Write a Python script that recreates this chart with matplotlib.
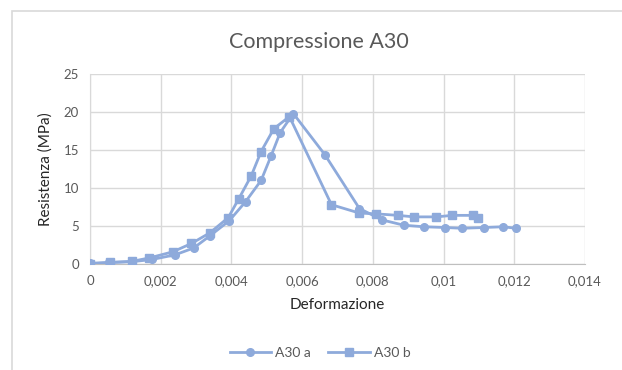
import matplotlib
matplotlib.use("Agg")
import matplotlib.pyplot as plt
from matplotlib.patches import Rectangle
from matplotlib.ticker import FuncFormatter, MultipleLocator

plt.rcParams['font.family'] = ['Lato', 'DejaVu Sans']

# Stress-strain data for the two A30 specimens
deform_a = [0.0, 0.00054, 0.00119, 0.00176, 0.0024, 0.00293, 0.00339, 0.00394,
            0.0044, 0.00484, 0.00512, 0.00538, 0.00575, 0.00664, 0.00762,
            0.00826, 0.00888, 0.00944, 0.01005, 0.01052, 0.01113, 0.01169, 0.01204]
resist_a = [0.1, 0.2, 0.3, 0.6, 1.2, 2.1, 3.7, 5.7,
            8.2, 11.0, 14.2, 17.3, 19.8, 14.4, 7.3,
            5.8, 5.1, 4.9, 4.8, 4.7, 4.8, 4.9, 4.7]

deform_b = [0.0, 0.00056, 0.00119, 0.00168, 0.00234, 0.00287, 0.00339, 0.00391,
            0.00421, 0.00456, 0.00484, 0.0052, 0.00564, 0.00683, 0.00762,
            0.00809, 0.00871, 0.00916, 0.0098, 0.01024, 0.01082, 0.01097]
resist_b = [0.0, 0.2, 0.35, 0.8, 1.6, 2.7, 4.1, 6.1,
            8.6, 11.6, 14.8, 17.8, 19.4, 7.8, 6.7,
            6.6, 6.4, 6.2, 6.2, 6.4, 6.4, 6.0]

series_names = ["A30 a", "A30 b"]

W, H = 622, 370
fig = plt.figure(figsize=(W / 100, H / 100), dpi=100)
fig.patch.set_facecolor("white")

# outer chart-area frame (only top and left edges fall inside the image)
fig.patches.append(Rectangle((12 / W, -0.2), 1.0, 1.2 - 11 / H, transform=fig.transFigure,
                             fill=False, edgecolor="#d9d9d9", linewidth=1.2))

left, right, bottom, top = 90, 585, 264, 74
ax = fig.add_axes([left / W, 1 - bottom / H, (right - left) / W, (bottom - top) / H])

color = "#8eaadb"
ax.plot(deform_a, resist_a, color=color, lw=2, marker="o", ms=5.5,
        label=series_names[0], zorder=3)
ax.plot(deform_b, resist_b, color=color, lw=2, marker="s", ms=5.5,
        label=series_names[1], zorder=3)

ax.set_xlim(0, 0.014)
ax.set_ylim(0, 25)
ax.xaxis.set_major_locator(MultipleLocator(0.002))
ax.yaxis.set_major_locator(MultipleLocator(5))

def comma_fmt(v, pos):
    if abs(v) < 1e-12:
        return "0"
    return ("%g" % round(v, 6)).replace(".", ",")

ax.xaxis.set_major_formatter(FuncFormatter(comma_fmt))
ax.grid(True, color="#d9d9d9", lw=1)
ax.set_axisbelow(True)
for s in ax.spines.values():
    s.set_visible(False)
ax.spines["bottom"].set_visible(True)
ax.spines["left"].set_visible(True)
ax.spines["bottom"].set_color("#bfbfbf")
ax.spines["left"].set_color("#d9d9d9")
ax.tick_params(length=0, labelsize=9.5, colors="#595959", pad=8)

ax.set_xlabel("Deformazione", fontsize=11, color="#262626", labelpad=8)
ax.set_ylabel("Resistenza (MPa)", fontsize=11, color="#262626", labelpad=8)

fig.text(319 / W, 1 - 42 / H, "Compressione A30", ha="center", va="center",
         fontsize=15.5, color="#595959")

fig.legend(loc="center", bbox_to_anchor=(320 / W, 1 - 353 / H), ncol=2, frameon=False,
           fontsize=10, labelcolor="#595959", handlelength=3, columnspacing=1.2,
           handletextpad=0.3)

fig.savefig("out.png", dpi=100, facecolor="white")
